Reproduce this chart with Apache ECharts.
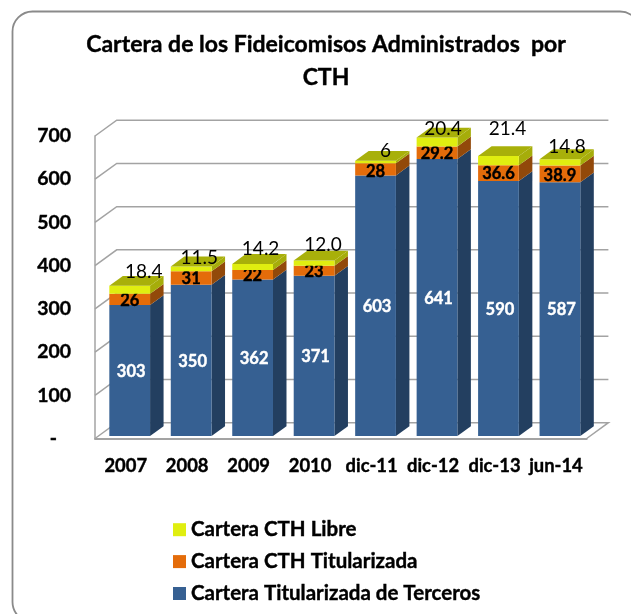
<!DOCTYPE html>
<html>
<head>
<meta charset="utf-8">
<style>
    html, body { margin: 0; padding: 0; background: #fff; }
    #main { width: 631px; height: 614px; }
</style>
<script src="https://cdn.jsdelivr.net/npm/echarts@6/dist/echarts.min.js"></script>
</head>
<body>
<div id="main"></div>
<script>
    var categories = ['2007', '2008', '2009', '2010', 'dic-11', 'dic-12', 'dic-13', 'jun-14'];
    var terceros = [303, 350, 362, 371, 603, 641, 590, 587];
    var titularizada = [26, 31, 22, 23, 28, 29.2, 36.6, 38.9];
    var libre = [18.4, 11.5, 14.2, 12.0, 6, 20.4, 21.4, 14.8];
    var libreLabels = ['18.4', '11.5', '14.2', '12.0', '6', '20.4', '21.4', '14.8'];
    var yTicks = [0, 100, 200, 300, 400, 500, 600, 700];

    // desplazamientos de etiquetas, movidas a mano en el original
    var libreNudge = [[14, -14], [8, -9], [8, -15], [9, -16], [10, -10], [6, -9], [9, -27], [7, -12]];
    var titularizadaNudge = [1, 1, 1, 1, 2, 1, 1, 2];

    var FONT = 'Lato';
    var WALL = [21.7, -15.8];   // profundidad de las paredes
    var DEPTH = [13.5, -9.8];   // profundidad de la barra
    var GRID_COLOR = '#a3a3a3';

    function renderWall(params, api) {
        var cs = params.coordSys;
        var y = api.coord([0, api.value(0)])[1];
        var x0 = cs.x, x1 = cs.x + cs.width;
        var points = [[x0, y], [x0 + WALL[0], y + WALL[1]], [x1 + WALL[0], y + WALL[1]]];
        if (api.value(0) === 0) {
            points.push([x1, y]);
        }
        return {
            type: 'polyline',
            shape: { points: points },
            style: { stroke: GRID_COLOR, lineWidth: 1.5, fill: null }
        };
    }

    // cara frontal + lateral (+ tapa si es el ultimo tramo) de un tramo de la pila
    function getBarRender(colors, isTop, labelFn) {
        return function (params, api) {
            var i = api.value(0);
            var base = api.value(1), val = api.value(2);
            var band = api.size([1, 0])[0];
            var start = api.coord([i, base]);
            var end = api.coord([i, base + val]);
            var w = band * 0.663;
            var xl = start[0] - band / 2 + band * 0.233;
            var xr = xl + w;
            var yb = start[1] - 2.5, yt = end[1] - 2.5;
            var children = [{
                type: 'polygon',
                shape: { points: [[xr, yb], [xr + DEPTH[0], yb + DEPTH[1]], [xr + DEPTH[0], yt + DEPTH[1]], [xr, yt]] },
                style: { fill: colors.side }
            }, {
                type: 'rect',
                shape: { x: xl, y: yt, width: w, height: yb - yt },
                style: { fill: colors.front }
            }];
            if (isTop) {
                children.push({
                    type: 'polygon',
                    shape: { points: [[xl, yt], [xl + DEPTH[0], yt + DEPTH[1]], [xr + DEPTH[0], yt + DEPTH[1]], [xr, yt]] },
                    style: { fill: colors.top }
                });
            }
            var label = labelFn(i, xl + w / 2, yb, yt);
            children.push({
                type: 'text',
                z2: 10,
                style: {
                    text: label.text, x: label.x, y: label.y,
                    fill: label.color, align: 'center', verticalAlign: 'middle',
                    stroke: label.color, lineWidth: label.weight === 'bold' ? 0.4 : 0,
                    font: label.weight + ' ' + label.size + 'px ' + FONT
                }
            });
            return { type: 'group', children: children };
        };
    }

    function stackData(values, below) {
        return values.map(function (v, i) {
            var base = 0;
            below.forEach(function (arr) { base += arr[i]; });
            return [i, base, v];
        });
    }

    var chart = echarts.init(document.getElementById('main'));
    chart.setOption({
        animation: false,
        backgroundColor: '#fff',
        title: {
            text: 'Cartera de los Fideicomisos Administrados  por\nCTH',
            left: 321,
            top: 23,
            textAlign: 'center',
            textStyle: {
                fontFamily: FONT, fontWeight: 'bold', fontSize: 23, lineHeight: 33, color: '#000',
                textBorderColor: '#000', textBorderWidth: 0.4
            }
        },
        legend: {
            orient: 'vertical',
            left: 168,
            top: 514,
            itemWidth: 13,
            itemHeight: 13,
            itemGap: 10.5,
            icon: 'rect',
            data: ['Cartera CTH Libre', 'Cartera CTH Titularizada', 'Cartera Titularizada de Terceros'],
            textStyle: {
                fontFamily: FONT, fontWeight: 'bold', fontSize: 20.5, color: '#000',
                textBorderColor: '#000', textBorderWidth: 0.4
            }
        },
        graphic: [{
            type: 'rect',
            shape: { x: 12.5, y: 11.5, width: 627.5, height: 610.5, r: 20 },
            style: { fill: null, stroke: '#8a8a8a', lineWidth: 1.8 },
            z: -1
        }],
        grid: { left: 95, right: 44.3, top: 136, bottom: 175.5 },
        xAxis: {
            type: 'category',
            data: categories,
            axisTick: { show: false },
            axisLine: { lineStyle: { color: GRID_COLOR, width: 2 } },
            axisLabel: {
                fontFamily: FONT, fontWeight: 'bold', fontSize: 18.4, color: '#000', margin: 19, interval: 0,
                textBorderColor: '#000', textBorderWidth: 0.4
            }
        },
        yAxis: {
            type: 'value',
            min: 0,
            max: 700,
            interval: 100,
            splitLine: { show: false },
            axisTick: { show: false },
            axisLine: { show: true, lineStyle: { color: GRID_COLOR, width: 1.5 } },
            axisLabel: {
                fontFamily: FONT, fontWeight: 'bold', fontSize: 19.4, color: '#000', margin: 24,
                padding: [3, 0, 0, 0],
                textBorderColor: '#000', textBorderWidth: 0.4,
                formatter: function (v) { return v === 0 ? '-   ' : String(v); }
            }
        },
        series: [{
            name: 'wall',
            type: 'custom',
            renderItem: renderWall,
            data: yTicks.map(function (v) { return [v]; }),
            silent: true,
            z: 1
        }, {
            name: 'Cartera Titularizada de Terceros',
            type: 'custom',
            itemStyle: { color: '#366092' },
            renderItem: getBarRender({ front: '#366092', side: '#233f60' }, false, function (i, cx, yb, yt) {
                return { text: String(terceros[i]), x: cx + 1.5, y: (yb + yt) / 2 + 1, color: '#fff', weight: 'bold', size: 16.5 };
            }),
            data: stackData(terceros, []),
            z: 2
        }, {
            name: 'Cartera CTH Titularizada',
            type: 'custom',
            itemStyle: { color: '#e46c0a' },
            renderItem: getBarRender({ front: '#e46c0a', side: '#92490a' }, false, function (i, cx, yb, yt) {
                return { text: String(titularizada[i]), x: cx, y: (yb + yt) / 2 + titularizadaNudge[i], color: '#000', weight: 'bold', size: 16.5 };
            }),
            data: stackData(titularizada, [terceros]),
            z: 3
        }, {
            name: 'Cartera CTH Libre',
            type: 'custom',
            itemStyle: { color: '#e0ee10' },
            renderItem: getBarRender({ front: '#e0ee10', side: '#a6ad0a', top: '#a8b00a' }, true, function (i, cx, yb, yt) {
                return { text: libreLabels[i], x: cx + libreNudge[i][0], y: yt + libreNudge[i][1], color: '#000', weight: 'normal', size: 19 };
            }),
            data: stackData(libre, [terceros, titularizada]),
            z: 4
        }]
    });
</script>
</body>
</html>
